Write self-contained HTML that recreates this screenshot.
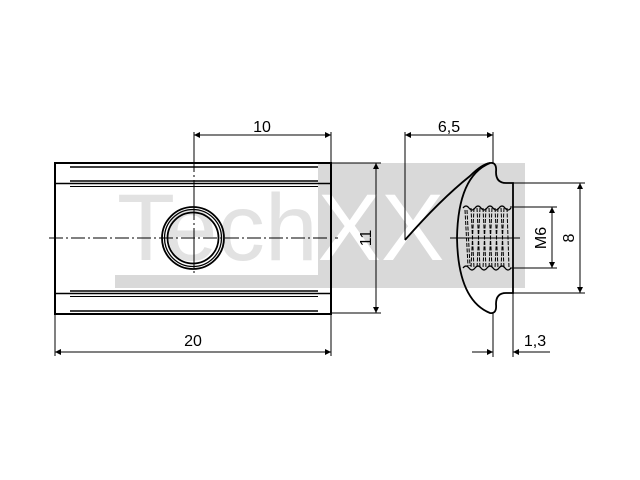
<!DOCTYPE html>
<html><head><meta charset="utf-8"><style>body{margin:0;background:#fff}svg{display:block}</style></head>
<body>
<svg width="640" height="480" viewBox="0 0 640 480" xmlns="http://www.w3.org/2000/svg" font-family="Liberation Sans, sans-serif">
<defs>
<marker id="a" viewBox="0 0 10 10" refX="10" refY="5" markerWidth="10" markerHeight="6" orient="auto-start-reverse" markerUnits="userSpaceOnUse"><path d="M0,0L10,5L0,10z" fill="#000"/></marker>
<clipPath id="cl"><rect x="115" y="186" width="203" height="89"/></clipPath>
</defs>
<rect x="115" y="163" width="410" height="125" fill="#d9d9d9"/>
<text x="117" y="260" font-size="95" fill="#fff">TechXX</text>
<rect x="55" y="163" width="263" height="112" fill="#fff"/>
<text x="117" y="260" font-size="95" fill="#e2e2e2" clip-path="url(#cl)">Tech</text>
<rect x="55" y="288" width="263" height="26" fill="#fff"/>
<rect x="55" y="163" width="60" height="125" fill="#fff"/>
<g stroke="#000" fill="none">
<rect x="55" y="163" width="276" height="151" stroke-width="2"/>
<line x1="70" y1="167" x2="318" y2="167" stroke-width="1.5"/>
<line x1="70" y1="181" x2="318" y2="181" stroke-width="1.5"/>
<line x1="55" y1="183.5" x2="331" y2="183.5" stroke-width="1.5"/>
<line x1="70" y1="186.5" x2="318" y2="186.5" stroke-width="1"/>
<line x1="70" y1="291" x2="318" y2="291" stroke-width="1.5"/>
<line x1="55" y1="293.5" x2="331" y2="293.5" stroke-width="1.5"/>
<line x1="70" y1="296.5" x2="318" y2="296.5" stroke-width="1"/>
<line x1="70" y1="311" x2="318" y2="311" stroke-width="1.5"/>
<circle cx="193" cy="238" r="31" stroke-width="1.8"/>
<circle cx="193" cy="238" r="28.5" stroke-width="1.3"/>
<circle cx="193" cy="238" r="25.5" stroke-width="1.8"/>
<line x1="49" y1="238" x2="338" y2="238" stroke-width="1" stroke-dasharray="14,3,2,3"/>
<line x1="194" y1="132" x2="194" y2="275" stroke-width="1" stroke-dasharray="40,3,2,3"/>
<line x1="331" y1="132" x2="331" y2="163" stroke-width="1"/>
<line x1="194" y1="135" x2="331" y2="135" stroke-width="1" marker-start="url(#a)" marker-end="url(#a)"/>
<line x1="331" y1="163" x2="381" y2="163" stroke-width="1"/>
<line x1="331" y1="313" x2="381" y2="313" stroke-width="1"/>
<line x1="376" y1="163" x2="376" y2="313" stroke-width="1" marker-start="url(#a)" marker-end="url(#a)"/>
<line x1="55" y1="314" x2="55" y2="356" stroke-width="1"/>
<line x1="331" y1="314" x2="331" y2="356" stroke-width="1"/>
<line x1="55" y1="352" x2="331" y2="352" stroke-width="1" marker-start="url(#a)" marker-end="url(#a)"/>
<path d="M490,163 Q497,162 496,172 Q496,183 506,183 L513,183 L513,293 L506,293 Q496,293 496,304 Q497,314 490,313 Q458,300 457,238 Q458,176 490,163 Z" stroke-width="1.8"/>
<path d="M405,240 Q440,200 470,176 Q482,164 490,163" stroke-width="1.8"/>
<g stroke-width="1" stroke-dasharray="4,1.5">
<path d="M465,210 L468,266 M471,208 L474,268 M477,208 L480,268 M483,208 L486,268 M489,208 L492,268 M495,208 L498,268 M501,208 L504,268 M507,208 L509,268"/>
<path d="M467,210 L470,266 M474,208 L471,268 M480,208 L477,268 M486,208 L483,268 M492,208 L489,268 M498,208 L495,268 M504,208 L501,268"/>
</g>
<path d="M463,208 q3,-4 6,0 q3,4 6,0 q3,-4 6,0 q3,4 6,0 q3,-4 6,0 q3,4 6,0 q3,-4 6,0 q3,4 6,0" stroke-width="1.2"/>
<path d="M463,268 q3,-4 6,0 q3,4 6,0 q3,-4 6,0 q3,4 6,0 q3,-4 6,0 q3,4 6,0 q3,-4 6,0 q3,4 6,0" stroke-width="1.2"/>
<line x1="450" y1="238" x2="520" y2="238" stroke-width="1"/>
<line x1="405" y1="132" x2="405" y2="240" stroke-width="1"/>
<line x1="493" y1="132" x2="493" y2="163" stroke-width="1"/>
<line x1="405" y1="135" x2="493" y2="135" stroke-width="1" marker-start="url(#a)" marker-end="url(#a)"/>
<line x1="510" y1="207" x2="557" y2="207" stroke-width="1"/>
<line x1="510" y1="268" x2="557" y2="268" stroke-width="1"/>
<line x1="552" y1="207" x2="552" y2="268" stroke-width="1" marker-start="url(#a)" marker-end="url(#a)"/>
<line x1="513" y1="183" x2="585" y2="183" stroke-width="1"/>
<line x1="513" y1="293" x2="585" y2="293" stroke-width="1"/>
<line x1="580" y1="183" x2="580" y2="293" stroke-width="1" marker-start="url(#a)" marker-end="url(#a)"/>
<line x1="493" y1="313" x2="493" y2="357" stroke-width="1"/>
<line x1="513" y1="293" x2="513" y2="357" stroke-width="1"/>
<line x1="472" y1="352" x2="493" y2="352" stroke-width="1" marker-end="url(#a)"/>
<line x1="550" y1="352" x2="513" y2="352" stroke-width="1" marker-end="url(#a)"/>
</g>
<g font-size="16" fill="#000" text-anchor="middle">
<text x="262" y="132">10</text>
<text x="193" y="346">20</text>
<text x="449" y="132">6,5</text>
<text x="535" y="346">1,3</text>
<text transform="translate(371,238) rotate(-90)">11</text>
<text transform="translate(546,238) rotate(-90)">M6</text>
<text transform="translate(574,238) rotate(-90)">8</text>
</g>
</svg>
</body></html>
